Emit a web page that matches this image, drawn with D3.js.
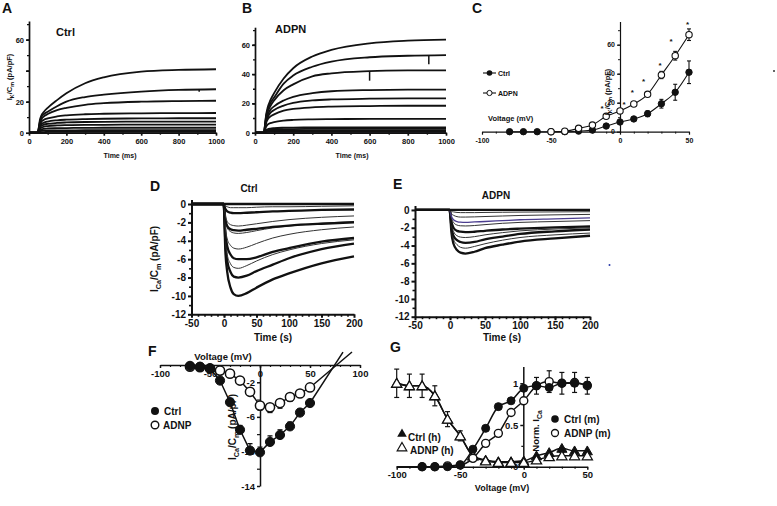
<!DOCTYPE html>
<html><head><meta charset="utf-8">
<script src="https://cdn.jsdelivr.net/npm/d3@7"></script>
<style>
body{margin:0;background:#fff}
svg text{font-family:"Liberation Sans",Arial,sans-serif;font-weight:bold;fill:#111}
</style></head><body><svg id="c" width="777" height="506"></svg>
<script>
// ================= DATA =================
// Panels A/B: K+ current traces (pA/pF) sampled at these times (ms)
const timeAB = [0,48,52,58,66,80,100,150,200,300,400,600,800,1000];
const ctrlK = [
 [0,0,3,8,11,13.5,16,21,25.4,31.9,35.7,39.4,40.5,40.9],
 [0,0,3,7,10,12,13.5,17,20,23,24.5,26.5,27.6,28],
 [0,0,2.5,6,8.5,10.5,12,14.5,16,18,19,20,20.4,20.6],
 [0,0,2,5,7,8.3,9.2,10.5,11.2,11.9,12.2,12.5,12.6,12.7],
 [0,0,1.8,4,5.5,6.5,7.2,8,8.4,8.8,9,9.2,9.3,9.3],
 [0,0,1.5,3.2,4.4,5.2,5.7,6.3,6.6,6.9,7,7.1,7.1,7.1],
 [0,0,1.2,2.5,3.3,3.9,4.3,4.7,4.9,5.1,5.1,5.2,5.2,5.2],
 [0,0,0.8,1.6,2.1,2.5,2.7,2.9,3,3.1,3.2,3.2,3.2,3.2],
 [0,0,0.4,0.9,1.2,1.3,1.4,1.5,1.5,1.6,1.6,1.6,1.6,1.6],
 [0,0,0.2,0.3,0.4,0.4,0.5,0.5,0.5,0.5,0.5,0.5,0.5,0.5]
];
const adpnK = [
 [0,0,5,12,17,22,27,37,44,52,56.5,61,62.8,63.5],
 [0,0,5,11,15.5,20,24,33.5,39,45,48.5,51.5,52.5,53],
 [0,0,4.5,10,14,18,22,29,33,38.5,40.5,42,42.5,42.6],
 [0,0,4,8.5,12,15.5,18,22,24.5,27,28.3,29.1,29.4,29.4],
 [0,0,3.5,7.5,10.5,13.5,15.5,18.5,20.3,22,22.7,23.2,23.4,23.4],
 [0,0,3,6.5,9,11,12.5,15,16.2,17.3,17.8,18.2,18.4,18.4],
 [0,0,2,4,5.5,6.5,7.2,8.2,8.7,9.1,9.3,9.4,9.4,9.4],
 [0,0,0.8,1.7,2.3,2.8,3.1,3.4,3.5,3.6,3.7,3.7,3.7,3.7],
 [0,0,0.6,1.2,1.7,2,2.2,2.4,2.5,2.6,2.6,2.6,2.6,2.6],
 [0,0,0.4,0.8,1.1,1.3,1.4,1.5,1.5,1.5,1.5,1.5,1.5,1.5],
 [0,0,0.2,0.4,0.5,0.5,0.6,0.6,0.6,0.6,0.6,0.6,0.6,0.6]
];
const adpnKPurple = [0,0,0.1,0.2,0.25,0.3,0.3,0.3,0.3,0.3,0.3,0.3,0.3,0.3];
const artifactTraceA = [1], artifactTimeA = [910], artifactDropA = [1.5];
const artifactTraceB = [1, 2], artifactTimeB = [910, 600], artifactDropB = [6, 6.5];
const tickAB_x = [0,200,400,600,800,1000];
const tickA_y = [0,20,40,60];
const tickB_y = [0,20,40,60];

// Panel C: I-V of K+ current
const voltCctrl = [-80,-70,-60,-50,-40,-30,-20,-10,0,10,20,30,40,50];
const ctrlC    = [0,0,0,0,0,0.4,1.1,3.9,6.7,8.8,12.4,19.3,27.2,41];
const ctrlCErr = [0,0,0,0,0,0,0.4,0.8,1,1.2,2,3,5.5,7.8];
const voltCadpn = [-50,-40,-30,-20,-10,0,10,20,30,40,50];
const adpnC    = [0,0.3,2.3,4.6,10.6,14.3,19.1,25.8,39.1,52.4,66.9];
const adpnCErr = [0,0,0,0.5,0.8,1,1.2,1.5,2.5,3,4];
const starV = [-13,3,9,17,29,37,49];
const starI = [17,20,28,36,47,63,75];
const tickC_x = [-100,-50,0,50];
const tickC_y = [0,20,40,60];

// Panels D/E: Ca2+ current traces (pA/pF), times in s
const timeDE = [-50,-0.5,0,2,5,10,15,22,35,50,75,100,150,200];
const ctrlCa = [
 [0,0,-0.5,-5,-7.4,-9.1,-9.8,-10,-9.7,-9.1,-8.2,-7.55,-6.45,-5.7],
 [0,0,-0.4,-4,-6.2,-7.4,-7.9,-8,-7.8,-7.3,-6.6,-5.9,-4.9,-4.3],
 [0,0,-0.3,-3.5,-5.5,-6.5,-6.9,-7,-6.7,-6.2,-5.5,-5,-4.3,-3.9],
 [0,0,-0.3,-3,-4.6,-5.5,-5.9,-6,-6,-5.8,-5.2,-4.8,-4.1,-3.7],
 [0,0,-0.2,-2.4,-3.8,-4.5,-4.8,-4.9,-4.7,-4.3,-3.7,-3.3,-2.8,-2.5],
 [0,0,-0.2,-1.7,-2.6,-3,-3.15,-3.2,-3.1,-2.9,-2.6,-2.4,-2.1,-1.9],
 [0,0,-0.2,-1.6,-2.4,-2.75,-2.85,-2.9,-2.8,-2.7,-2.5,-2.35,-2.15,-2.0],
 [0,0,-0.1,-1.2,-1.9,-2.25,-2.35,-2.4,-2.3,-2.15,-1.9,-1.7,-1.45,-1.3],
 [0,0,-0.1,-0.5,-0.8,-0.95,-1,-1,-0.95,-0.9,-0.8,-0.75,-0.65,-0.6],
 [0,0,0,-0.2,-0.3,-0.4,-0.4,-0.4,-0.4,-0.35,-0.3,-0.3,-0.25,-0.2],
 [0,0,0,0,0,0,0,0,0,0,0,0,0,0]
];
const ctrlCaStyle = ["k","k","t","k","t","t","k","t","k","t","k"];
const adpnCa = [
 [0,0,-0.3,-2.5,-3.8,-4.5,-4.8,-4.9,-4.7,-4.3,-3.9,-3.55,-3.2,-2.9],
 [0,0,-0.3,-2.2,-3.3,-3.9,-4.2,-4.3,-4.1,-3.8,-3.4,-3.1,-2.8,-2.6],
 [0,0,-0.2,-1.9,-2.9,-3.4,-3.6,-3.7,-3.6,-3.3,-3,-2.7,-2.4,-2.2],
 [0,0,-0.2,-1.6,-2.4,-2.9,-3.05,-3.1,-3,-2.8,-2.55,-2.35,-2.15,-2.0],
 [0,0,-0.2,-1.3,-2,-2.35,-2.45,-2.5,-2.45,-2.35,-2.2,-2.1,-1.95,-1.85],
 [0,0,-0.1,-0.9,-1.4,-1.7,-1.78,-1.8,-1.75,-1.65,-1.5,-1.4,-1.3,-1.2],
 [0,0,-0.1,-0.7,-1.1,-1.3,-1.38,-1.4,-1.35,-1.3,-1.2,-1.1,-1,-0.9],
 [0,0,-0.05,-0.4,-0.6,-0.75,-0.8,-0.8,-0.78,-0.74,-0.68,-0.62,-0.55,-0.5],
 [0,0,0,-0.15,-0.22,-0.28,-0.3,-0.3,-0.3,-0.28,-0.26,-0.24,-0.22,-0.2],
 [0,0,0,0,0,0,0,0,0,0,0,0,0,0]
];
const adpnCaStyle = ["k","t","k","t","k","t","p","t","t","k"];
const tickDE_x = [-50,0,50,100,150,200];
const tickDE_y = [0,-2,-4,-6,-8,-10,-12];

// Panel F: I-V of Ca2+ current
const voltF    = [-70,-60,-50,-40,-30,-20,-10,0,10,20,30,40,50];
const ctrlF    = [-0.1,-0.2,-0.4,-1.8,-4.3,-7.5,-9.9,-10.1,-8.9,-8.1,-7.1,-5.5,-4.4];
const ctrlFErr = [0,0,0,0.2,0.3,0.5,0.8,0.6,0.7,0.6,0.5,0.4,0.3];
const adnpF    = [-0.2,-0.25,-0.4,-0.65,-1,-1.8,-3.1,-4.7,-4.9,-4.4,-3.7,-3.3,-2.6];
const adnpFErr = [0,0,0,0,0,0.2,0.3,0.5,0.6,0.6,0.5,0.4,0.3];
const ctrlFitEnd = [83, 1.5];
const adnpFitEnd = [92, 1.5];
const tickF_x = [-100,-50,0,50,100];
const tickF_y = [-2,-6,-10,-14];

// Panel G: activation (m) / inactivation (h)
const voltG   = [-100,-90,-80,-70,-60,-50,-40,-30,-20,-10,0,10,20,30,40,50];
const ctrlM   = [null,null,0,0,0,0.02,0.21,0.46,0.72,0.79,0.94,0.97,0.95,1.0,1.0,0.98];
const adnpM   = [null,null,0,0,0.01,0.02,0.1,0.28,0.4,0.65,0.79,0.97,1.02,1.0,1.01,0.97];
const adnpMErr= [0,0,0,0,0,0,0,0,0,0,0,0.1,0.13,0.13,0.12,0.1];
const ctrlH   = [1.0,0.97,0.97,0.85,0.57,0.37,0.13,0.08,0.06,0.06,0.07,0.13,0.17,0.22,0.19,0.19];
const adnpH   = [1.0,0.97,0.97,0.85,0.57,0.37,0.13,0.07,0.05,0.05,0.05,0.08,0.12,0.13,0.13,0.13];
const adnpHErr= [0.17,0.14,0.14,0.12,0.09,0.06,0.03,0.02,0.02,0.02,0.02,0.03,0.04,0.04,0.04,0.04];
const mFitStart = [-100, 0];
const tickG_x = [-100,-50,0,50];
const tickG_y = [0,0.5,1];

// ================= DRAWING =================
const svg = d3.select("#c");
svg.append("rect").attr("width",777).attr("height",506).attr("fill","#fff");
const INK = "#111";

function styleAxis(a,o){
  a.attr("font-family",null).attr("font-size",null).attr("color",INK);
  a.select(".domain").attr("stroke-width",o.sw);
  a.selectAll(".tick line").attr("stroke-width",o.sw);
  a.selectAll("text").style("font-size",o.fs+"px");
}
function axis(gen, scale, tx, ty, major, minor, opt){
  const o = Object.assign({size:3,minorSize:2,fs:8,sw:1.5,fmt:d=>String(d),pad:2},opt);
  const a = svg.append("g").attr("transform",`translate(${tx},${ty})`)
    .call(gen(scale).tickValues(major).tickSize(o.size).tickSizeOuter(0).tickFormat(o.fmt).tickPadding(o.pad));
  styleAxis(a,o);
  if(minor){
    const m = svg.append("g").attr("transform",`translate(${tx},${ty})`)
      .call(gen(scale).tickValues(minor).tickSize(o.minorSize).tickSizeOuter(0).tickFormat(()=>""));
    m.attr("color",INK); m.select(".domain").remove();
    m.selectAll("line").attr("stroke-width",o.sw*0.8);
  }
  return a;
}
function text(x,y,s,fs,anchor){
  return svg.append("text").attr("x",x).attr("y",y).attr("text-anchor",anchor||"start").style("font-size",fs+"px").text(s);
}
function rich(x,y,parts,fs,rot,anchor){
  const t = svg.append("text").attr("transform",`translate(${x},${y})`+(rot?` rotate(${rot})`:""))
    .attr("text-anchor",anchor||"middle").style("font-size",fs+"px");
  let shift=0;
  parts.forEach(([s,sub])=>{
    const ts=t.append("tspan").text(s);
    if(sub){ts.style("font-size",(fs*0.72)+"px").attr("dy",fs*0.3-shift);shift=fs*0.3;}
    else{ts.attr("dy",-shift);shift=0;}
  });
  return t;
}
function range(a,b,s){const r=[];for(let v=a;v<=b+1e-9;v+=s)r.push(+v.toFixed(4));return r;}
function interpAt(times,vals,t){const i=d3.bisectLeft(times,t);if(i<=0)return vals[0];if(i>=times.length)return vals[vals.length-1];
  const f=(t-times[i-1])/(times[i]-times[i-1]);return vals[i-1]+f*(vals[i]-vals[i-1]);}
function trace(xs,ys,times,vals,w,color){
  svg.append("path").attr("fill","none").attr("stroke",color).attr("stroke-width",w)
    .attr("stroke-linejoin","round")
    .attr("d",d3.line().x((d,j)=>xs(times[j])).y(d=>ys(d)).curve(d3.curveMonotoneX)(vals));
}
function errBars(xs,ys,xv,yv,ev,cap,w,dir){
  xv.forEach((v,i)=>{
    if(yv[i]==null||!ev[i])return;
    const x=xs(v), lo=dir==="up"?yv[i]:yv[i]-ev[i], hi=dir==="down"?yv[i]:yv[i]+ev[i];
    const g=svg.append("g").attr("stroke",INK).attr("stroke-width",w);
    g.append("line").attr("x1",x).attr("x2",x).attr("y1",ys(lo)).attr("y2",ys(hi));
    if(dir!=="down")g.append("line").attr("x1",x-cap).attr("x2",x+cap).attr("y1",ys(hi)).attr("y2",ys(hi));
    if(dir!=="up")g.append("line").attr("x1",x-cap).attr("x2",x+cap).attr("y1",ys(lo)).attr("y2",ys(lo));
  });
}
function circles(xs,ys,xv,yv,r,filled,sw){
  xv.forEach((v,i)=>{ if(yv[i]==null)return;
    svg.append("circle").attr("cx",xs(v)).attr("cy",ys(yv[i])).attr("r",r)
      .attr("fill",filled?INK:"#fff").attr("stroke",INK).attr("stroke-width",sw);});
}
function triangles(xs,ys,xv,yv,size,filled,sw){
  const sym=d3.symbol(d3.symbolTriangle).size(size);
  xv.forEach((v,i)=>{ if(yv[i]==null)return;
    svg.append("path").attr("d",sym()).attr("transform",`translate(${xs(v)},${ys(yv[i])+1})`)
      .attr("fill",filled?INK:"#fff").attr("stroke",INK).attr("stroke-width",sw);});
}
function fitLine(xs,ys,pts,w,curve){
  svg.append("path").attr("fill","none").attr("stroke",INK).attr("stroke-width",w)
    .attr("d",d3.line().x(d=>xs(d[0])).y(d=>ys(d[1])).curve(curve||d3.curveMonotoneX)(pts));
}
const IK  = [["I",0],["K",1],["/C",0],["m",1],[" (pA/pF)",0]];
const ICa = [["I",0],["Ca",1],["/C",0],["m",1],[" (pA/pF)",0]];

// ---------- Panel A ----------
const xA=d3.scaleLinear([0,1000],[29,216]), yA=d3.scaleLinear([0,72],[132.7,21]);
ctrlK.forEach(v=>trace(xA,yA,timeAB,v,1.8,INK));
artifactTraceA.forEach((k,i)=>{const t=artifactTimeA[i],v=interpAt(timeAB,ctrlK[k],t);
  svg.append("line").attr("x1",xA(t)).attr("x2",xA(t)).attr("y1",yA(v)).attr("y2",yA(v-artifactDropA[i])).attr("stroke",INK).attr("stroke-width",1.5);});
axis(d3.axisBottom,xA,0,132.7,tickAB_x,range(100,900,200),{fs:7.5,size:3,pad:3,sw:1.7});
axis(d3.axisLeft,yA,29,0,tickA_y,range(10,70,10),{fs:7.5,size:3,sw:1.7,fmt:d=>d===40?"":String(d)});
text(2,13,"A",14);
text(56,36,"Ctrl",11);
text(120,158,"Time (ms)",7,"middle");
rich(12,77,IK,7.5,-90);

// ---------- Panel B ----------
const xB=d3.scaleLinear([0,1000],[255,446]), yB=d3.scaleLinear([0,72],[132.7,27.2]);
trace(xB,yB,timeAB,adpnKPurple,1.2,"#8a6fb0");
adpnK.forEach(v=>trace(xB,yB,timeAB,v,1.8,INK));
artifactTraceB.forEach((k,i)=>{const t=artifactTimeB[i],v=interpAt(timeAB,adpnK[k],t);
  svg.append("line").attr("x1",xB(t)).attr("x2",xB(t)).attr("y1",yB(v)).attr("y2",yB(v-artifactDropB[i])).attr("stroke",INK).attr("stroke-width",1.5);});
axis(d3.axisBottom,xB,0,132.7,tickAB_x,range(100,900,200),{fs:7.5,size:3,pad:3,sw:1.7});
axis(d3.axisLeft,yB,255,0,tickB_y,range(10,70,10),{fs:7.5,size:3,sw:1.7});
text(242,13,"B",14);
text(275,33,"ADPN",11);
text(352,158,"Time (ms)",7,"middle");

// ---------- Panel C ----------
const xC=d3.scaleLinear([-100,50],[482,689]), yC=d3.scaleLinear([0,76],[131.7,21.5]);
axis(d3.axisBottom,xC,0,131.7,tickC_x,range(-90,40,10),{fs:7,size:3,pad:3,sw:1.2});
axis(d3.axisLeft,yC,620,0,tickC_y,range(10,70,10),{fs:7,size:3,sw:1.2});
fitLine(xC,yC,voltCctrl.map((v,i)=>[v,ctrlC[i]]),1.1);
fitLine(xC,yC,voltCadpn.map((v,i)=>[v,adpnC[i]]),1.1);
errBars(xC,yC,voltCctrl,ctrlC,ctrlCErr,2,1.1);
errBars(xC,yC,voltCadpn,adpnC,adpnCErr,2,1.1);
circles(xC,yC,voltCctrl,ctrlC,3.2,true,1);
circles(xC,yC,voltCadpn,adpnC,3.2,false,1.1);
starV.forEach((v,i)=>text(xC(v),yC(starI[i])+4,"*",8,"middle"));
text(472,13,"C",14);
// legend C
svg.append("line").attr("x1",483).attr("x2",496).attr("y1",73).attr("y2",73).attr("stroke",INK).attr("stroke-width",1.1);
svg.append("circle").attr("cx",489.5).attr("cy",73).attr("r",2.8).attr("fill",INK);
text(498,75.5,"Ctrl",7);
svg.append("line").attr("x1",483).attr("x2",496).attr("y1",93).attr("y2",93).attr("stroke",INK).attr("stroke-width",1.1);
svg.append("circle").attr("cx",489.5).attr("cy",93).attr("r",2.6).attr("fill","#fff").attr("stroke",INK).attr("stroke-width",1);
text(498,95.5,"ADPN",7);
text(488,121,"Voltage (mV)",7.5);
rich(610,92,IK,7.5,-90);
svg.append("circle").attr("cx",774).attr("cy",71).attr("r",1).attr("fill","#333");

// ---------- Panel D ----------
const xD=d3.scaleLinear([-50,200],[191.5,354]), yD=d3.scaleLinear([-12,0.5],[314.3,199.4]);
ctrlCa.forEach((v,i)=>{const s=ctrlCaStyle[i];trace(xD,yD,timeDE,v,s==="k"?2.3:1,s==="k"?INK:"#333");});
axis(d3.axisBottom,xD,0,314.3,tickDE_x,range(-40,190,10),{fs:10,size:3.5,minorSize:2.5,sw:2,pad:2});
axis(d3.axisLeft,yD,191.5,0,tickDE_y,range(-11,-1,2),{fs:10,size:3.5,minorSize:2.5,sw:2,pad:2});
text(150,191,"D",14);
text(249,192,"Ctrl",10,"middle");
text(273,341,"Time (s)",10,"middle");
rich(158,259,ICa,10,-90);

// ---------- Panel E ----------
const xE=d3.scaleLinear([-50,200],[415,590]), yE=d3.scaleLinear([-12,0.5],[316.7,205.5]);
adpnCa.forEach((v,i)=>{const s=adpnCaStyle[i];trace(xE,yE,timeDE,v,s==="k"?2.3:(s==="p"?1.3:1),s==="p"?"#4b3d8f":(s==="k"?INK:"#333"));});
axis(d3.axisBottom,xE,0,316.7,tickDE_x,range(-40,190,10),{fs:10,size:3.5,minorSize:2.5,sw:2,pad:2});
axis(d3.axisLeft,yE,415,0,tickDE_y,range(-11,-1,2),{fs:10,size:3.5,minorSize:2.5,sw:2,pad:2});
text(393,189,"E",14);
text(496,199,"ADPN",10,"middle");
text(502,341,"Time (s)",10,"middle");
svg.append("circle").attr("cx",609.5).attr("cy",265).attr("r",1).attr("fill","#2a3aa8");

// ---------- Panel F ----------
const xF=d3.scaleLinear([-100,100],[160,360]), yF=d3.scaleLinear([-14,0],[486,365]);
axis(d3.axisBottom,xF,0,365,tickF_x,range(-90,90,10),{fs:9.5,size:3,minorSize:2,sw:1.5,pad:2});
axis(d3.axisLeft,yF,260,0,tickF_y,[-4,-8,-12],{fs:9.5,size:3,minorSize:3,sw:1.5,pad:2});
fitLine(xF,yF,voltF.map((v,i)=>[v,ctrlF[i]]).concat([ctrlFitEnd]),1.5,d3.curveLinear);
fitLine(xF,yF,voltF.map((v,i)=>[v,adnpF[i]]).concat([adnpFitEnd]),1.5,d3.curveLinear);
errBars(xF,yF,voltF,ctrlF,ctrlFErr,2.5,1.3,"up");
errBars(xF,yF,voltF,adnpF,adnpFErr,2.5,1.3,"down");
circles(xF,yF,voltF,adnpF,4.6,false,1.5);
circles(xF,yF,voltF,ctrlF,4.6,true,1);
text(148,356,"F",14);
text(223,360,"Voltage (mV)",9.5,"middle");
rich(236,427,ICa,10,-90);
svg.append("circle").attr("cx",155).attr("cy",411).attr("r",4).attr("fill",INK);
text(164,415,"Ctrl",10);
svg.append("circle").attr("cx",155).attr("cy",425).attr("r",3.8).attr("fill","#fff").attr("stroke",INK).attr("stroke-width",1.4);
text(163,429,"ADNP",10);

// ---------- Panel G ----------
const xG=d3.scaleLinear([-100,50],[396.7,587.3]), yG=d3.scaleLinear([0,1.2],[466.7,366.6]);
axis(d3.axisBottom,xG,0,466.7,tickG_x,range(-90,40,10),{fs:9.5,size:3,minorSize:2,sw:1.5,pad:2});
axis(d3.axisLeft,yG,523.3,0,tickG_y,[0.25,0.75],{fs:9.5,size:3,minorSize:2,sw:1.5,pad:2});
fitLine(xG,yG,voltG.map((v,i)=>[v,ctrlH[i]]),1.5);
fitLine(xG,yG,voltG.map((v,i)=>[v,adnpH[i]]),1.5);
fitLine(xG,yG,[mFitStart].concat(voltG.map((v,i)=>[v,ctrlM[i]]).filter(d=>d[1]!=null)),1.5);
fitLine(xG,yG,[mFitStart].concat(voltG.map((v,i)=>[v,adnpM[i]]).filter(d=>d[1]!=null)),1.5);
errBars(xG,yG,voltG,adnpH,adnpHErr,2.5,1.2);
errBars(xG,yG,voltG,adnpM,adnpMErr,2.5,1.2);
triangles(xG,yG,voltG,ctrlH,45,true,1);
triangles(xG,yG,voltG,adnpH,45,false,1.3);
circles(xG,yG,voltG,adnpM,4,false,1.4);
circles(xG,yG,voltG,ctrlM,4,true,1);
text(390,352,"G",14);
text(502,491,"Voltage (mV)",9,"middle");
rich(539,431,[["Norm. I",0],["Ca",1]],9.5,-90);
// legends G
svg.append("path").attr("d",d3.symbol(d3.symbolTriangle).size(40)()).attr("transform","translate(402,434)").attr("fill",INK);
text(408,441,"Ctrl (h)",10);
svg.append("path").attr("d",d3.symbol(d3.symbolTriangle).size(40)()).attr("transform","translate(402,448)").attr("fill","#fff").attr("stroke",INK).attr("stroke-width",1.2);
text(410,454,"ADNP (h)",10);
svg.append("circle").attr("cx",555).attr("cy",419).attr("r",3.8).attr("fill",INK);
text(564,423,"Ctrl (m)",10);
svg.append("circle").attr("cx",555).attr("cy",433).attr("r",3.5).attr("fill","#fff").attr("stroke",INK).attr("stroke-width",1.3);
text(564,437,"ADNP (m)",10);
</script></body></html>
